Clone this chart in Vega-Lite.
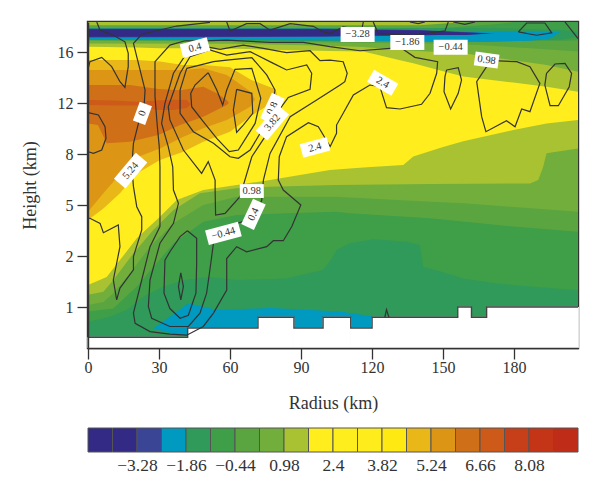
{"$schema":"https://vega.github.io/schema/vega-lite/v6.json","background":"white","padding":{"left":19,"top":20,"right":10,"bottom":10},"spacing":13,
"config":{"view":{"stroke":null},"axis":{"labelFont":"Liberation Serif","titleFont":"Liberation Serif","labelColor":"#333","titleColor":"#333","titleFontWeight":"normal","grid":false}},
"datasets":{
"bands":[
{"band":"-1.86","piece":"a","radius":0,"top":18.38,"bottom":0.2},{"band":"-1.86","piece":"a","radius":207,"top":18.38,"bottom":0.2},
{"band":"-1.15","piece":"b","radius":0,"top":18.38,"bottom":0.71},{"band":"-1.15","piece":"b","radius":9.3,"top":18.38,"bottom":0.81},{"band":"-1.15","piece":"b","radius":16.3,"top":18.38,"bottom":0.94},{"band":"-1.15","piece":"b","radius":23.4,"top":18.38,"bottom":1.2},{"band":"-1.15","piece":"b","radius":31.8,"top":18.38,"bottom":1.4},{"band":"-1.15","piece":"b","radius":40.3,"top":18.38,"bottom":1.53},{"band":"-1.15","piece":"b","radius":51.5,"top":18.38,"bottom":1.59},{"band":"-1.15","piece":"b","radius":62.8,"top":18.38,"bottom":1.53},{"band":"-1.15","piece":"b","radius":83.9,"top":18.38,"bottom":1.56},{"band":"-1.15","piece":"b","radius":99.4,"top":18.38,"bottom":1.73},{"band":"-1.15","piece":"b","radius":103,"top":18.38,"bottom":1.95},{"band":"-1.15","piece":"b","radius":105,"top":18.38,"bottom":2.35},{"band":"-1.15","piece":"b","radius":110.6,"top":18.38,"bottom":2.75},{"band":"-1.15","piece":"b","radius":120.5,"top":18.38,"bottom":2.98},{"band":"-1.15","piece":"b","radius":134.6,"top":18.38,"bottom":2.84},{"band":"-1.15","piece":"b","radius":140.2,"top":18.38,"bottom":2.65},{"band":"-1.15","piece":"b","radius":141.6,"top":18.38,"bottom":1.79},{"band":"-1.15","piece":"b","radius":151.5,"top":18.38,"bottom":1.66},{"band":"-1.15","piece":"b","radius":158.5,"top":18.38,"bottom":1.56},{"band":"-1.15","piece":"b","radius":172.6,"top":18.38,"bottom":1.46},{"band":"-1.15","piece":"b","radius":186.7,"top":18.38,"bottom":1.4},{"band":"-1.15","piece":"b","radius":207,"top":18.38,"bottom":1.33},
{"band":"-0.44","piece":"c","radius":0,"top":18.38,"bottom":0.91},{"band":"-0.44","piece":"c","radius":10.7,"top":18.38,"bottom":0.97},{"band":"-0.44","piece":"c","radius":20.6,"top":18.38,"bottom":1.4},{"band":"-0.44","piece":"c","radius":29,"top":18.38,"bottom":1.86},{"band":"-0.44","piece":"c","radius":36.1,"top":18.38,"bottom":2.75},{"band":"-0.44","piece":"c","radius":48.7,"top":18.38,"bottom":4.02},{"band":"-0.44","piece":"c","radius":62.8,"top":18.38,"bottom":4.41},{"band":"-0.44","piece":"c","radius":83.9,"top":18.38,"bottom":4.51},{"band":"-0.44","piece":"c","radius":105,"top":18.38,"bottom":4.61},{"band":"-0.44","piece":"c","radius":110.6,"top":18.38,"bottom":4.51},{"band":"-0.44","piece":"c","radius":144.5,"top":18.38,"bottom":4.22},{"band":"-0.44","piece":"c","radius":179.7,"top":18.38,"bottom":3.73},{"band":"-0.44","piece":"c","radius":207,"top":18.38,"bottom":3.43},
{"band":"0.27","piece":"d","radius":0,"top":18.38,"bottom":1.04},{"band":"0.27","piece":"d","radius":6.5,"top":18.38,"bottom":1.1},{"band":"0.27","piece":"d","radius":10.7,"top":18.38,"bottom":1.27},{"band":"0.27","piece":"d","radius":17.7,"top":18.38,"bottom":1.66},{"band":"0.27","piece":"d","radius":26.2,"top":18.38,"bottom":2.55},{"band":"0.27","piece":"d","radius":36.1,"top":18.38,"bottom":3.92},{"band":"0.27","piece":"d","radius":48.7,"top":18.38,"bottom":5},{"band":"0.27","piece":"d","radius":62.8,"top":18.38,"bottom":5.49},{"band":"0.27","piece":"d","radius":105,"top":18.38,"bottom":5.49},{"band":"0.27","piece":"d","radius":130.4,"top":18.38,"bottom":5.29},{"band":"0.27","piece":"d","radius":158.5,"top":18.38,"bottom":5.1},{"band":"0.27","piece":"d","radius":207,"top":18.38,"bottom":4.61},
{"band":"0.98","piece":"e","radius":0,"top":18.38,"bottom":1.24},{"band":"0.98","piece":"e","radius":6.5,"top":18.38,"bottom":1.3},{"band":"0.98","piece":"e","radius":10.7,"top":18.38,"bottom":1.53},{"band":"0.98","piece":"e","radius":19.2,"top":18.38,"bottom":2.16},{"band":"0.98","piece":"e","radius":27.6,"top":18.38,"bottom":3.53},{"band":"0.98","piece":"e","radius":36.1,"top":18.38,"bottom":4.71},{"band":"0.98","piece":"e","radius":47.3,"top":18.38,"bottom":5.69},{"band":"0.98","piece":"e","radius":62.8,"top":18.38,"bottom":5.98},{"band":"0.98","piece":"e","radius":76.9,"top":18.38,"bottom":6.08},{"band":"0.98","piece":"e","radius":105,"top":18.38,"bottom":6.18},{"band":"0.98","piece":"e","radius":144.5,"top":18.38,"bottom":6.24},{"band":"0.98","piece":"e","radius":186.7,"top":18.38,"bottom":6.27},{"band":"0.98","piece":"e","radius":190.2,"top":18.38,"bottom":6.47},{"band":"0.98","piece":"e","radius":192.3,"top":18.38,"bottom":7.25},{"band":"0.98","piece":"e","radius":193.7,"top":18.38,"bottom":8.05},{"band":"0.98","piece":"e","radius":207,"top":18.38,"bottom":8.44},
{"band":"1.69","piece":"f","radius":0,"top":16.42,"bottom":1.43},{"band":"1.69","piece":"f","radius":7.9,"top":16.4,"bottom":1.59},{"band":"1.69","piece":"f","radius":13.5,"top":16.38,"bottom":1.92},{"band":"1.69","piece":"f","radius":20.6,"top":16.36,"bottom":3.04},{"band":"1.69","piece":"f","radius":30.4,"top":16.3,"bottom":4.31},{"band":"1.69","piece":"f","radius":37.5,"top":16.29,"bottom":5.29},{"band":"1.69","piece":"f","radius":48.7,"top":16.27,"bottom":5.88},{"band":"1.69","piece":"f","radius":62.8,"top":16.25,"bottom":6.18},{"band":"1.69","piece":"f","radius":76.9,"top":16.18,"bottom":6.47},{"band":"1.69","piece":"f","radius":102.2,"top":16.08,"bottom":7.06},{"band":"1.69","piece":"f","radius":116.3,"top":16.03,"bottom":7.2},{"band":"1.69","piece":"f","radius":133.2,"top":15.3,"bottom":7.35},{"band":"1.69","piece":"f","radius":137.4,"top":15.11,"bottom":7.85},{"band":"1.69","piece":"f","radius":150,"top":14.5,"bottom":8.55},{"band":"1.69","piece":"f","radius":158.5,"top":14.07,"bottom":9},{"band":"1.69","piece":"f","radius":179.7,"top":13.6,"bottom":9.88},{"band":"1.69","piece":"f","radius":193.7,"top":13.28,"bottom":10.4},{"band":"1.69","piece":"f","radius":207,"top":12.89,"bottom":10.67},
{"band":"4.53","piece":"g","radius":0,"top":15.37,"bottom":4.12},{"band":"4.53","piece":"g","radius":6.5,"top":15.37,"bottom":4.8},{"band":"4.53","piece":"g","radius":13.5,"top":15.37,"bottom":5.69},{"band":"4.53","piece":"g","radius":20.6,"top":15.37,"bottom":6.86},{"band":"4.53","piece":"g","radius":30.4,"top":15.25,"bottom":7.65},{"band":"4.53","piece":"g","radius":40,"top":14.98,"bottom":8.15},{"band":"4.53","piece":"g","radius":48.7,"top":14.98,"bottom":8.97},{"band":"4.53","piece":"g","radius":60,"top":14.8,"bottom":9.75},{"band":"4.53","piece":"g","radius":69,"top":13.8,"bottom":11},{"band":"4.53","piece":"g","radius":79,"top":13.1,"bottom":12.15},{"band":"4.53","piece":"g","radius":80,"top":12.6,"bottom":12.6},
{"band":"5.24","piece":"h","radius":0,"top":14.59,"bottom":4.61},{"band":"5.24","piece":"h","radius":6.5,"top":14.59,"bottom":5.69},{"band":"5.24","piece":"h","radius":15,"top":14.59,"bottom":7.06},{"band":"5.24","piece":"h","radius":21.3,"top":14.59,"bottom":7.84},{"band":"5.24","piece":"h","radius":30.4,"top":14.59,"bottom":8.44},{"band":"5.24","piece":"h","radius":40.3,"top":14.59,"bottom":9.36},{"band":"5.24","piece":"h","radius":48.7,"top":14.72,"bottom":10.01},{"band":"5.24","piece":"h","radius":58.6,"top":14.2,"bottom":10.67},{"band":"5.24","piece":"h","radius":62.8,"top":13.67,"bottom":11.1},{"band":"5.24","piece":"h","radius":68.5,"top":12.9,"bottom":11.7},{"band":"5.24","piece":"h","radius":70.6,"top":12.3,"bottom":12.3},
{"band":"5.95","piece":"i","radius":0,"top":13.41,"bottom":10.4},{"band":"5.95","piece":"i","radius":4.2,"top":13.41,"bottom":10.27},{"band":"5.95","piece":"i","radius":7.9,"top":13.41,"bottom":8.84},{"band":"5.95","piece":"i","radius":17.7,"top":13.41,"bottom":8.97},{"band":"5.95","piece":"i","radius":29.7,"top":13.1,"bottom":9.49},{"band":"5.95","piece":"i","radius":38.9,"top":13,"bottom":10.27},{"band":"5.95","piece":"i","radius":48.7,"top":13.28,"bottom":10.93},{"band":"5.95","piece":"i","radius":54.4,"top":12.76,"bottom":11.45},{"band":"5.95","piece":"i","radius":58.6,"top":12.24,"bottom":11.84},{"band":"5.95","piece":"i","radius":59.5,"top":12,"bottom":12},
{"band":"6.66","piece":"j","radius":0,"top":12.24,"bottom":11.84},{"band":"6.66","piece":"j","radius":10.7,"top":12.2,"bottom":11.8},{"band":"6.66","piece":"j","radius":20.6,"top":12.1,"bottom":11.8},{"band":"6.66","piece":"j","radius":29,"top":12.2,"bottom":11.45},{"band":"6.66","piece":"j","radius":36,"top":12.25,"bottom":11.45},{"band":"6.66","piece":"j","radius":41.7,"top":12.24,"bottom":11.6},{"band":"6.66","piece":"j","radius":43.5,"top":11.9,"bottom":11.9},
{"band":"0.27","piece":"k","radius":0,"top":18.38,"bottom":16.68},{"band":"0.27","piece":"k","radius":60,"top":18.38,"bottom":16.65},{"band":"0.27","piece":"k","radius":102,"top":18.38,"bottom":16.5},{"band":"0.27","piece":"k","radius":116,"top":18.38,"bottom":16.4},{"band":"0.27","piece":"k","radius":137,"top":18.38,"bottom":16.1},{"band":"0.27","piece":"k","radius":158.5,"top":18.38,"bottom":15.9},{"band":"0.27","piece":"k","radius":193.7,"top":18.38,"bottom":14.98},{"band":"0.27","piece":"k","radius":207,"top":18.38,"bottom":14.46},
{"band":"-0.44","piece":"l","radius":0,"top":18.38,"bottom":16.9},{"band":"-0.44","piece":"l","radius":60,"top":18.38,"bottom":16.85},{"band":"-0.44","piece":"l","radius":102,"top":18.38,"bottom":16.75},{"band":"-0.44","piece":"l","radius":144.5,"top":18.38,"bottom":16.68},{"band":"-0.44","piece":"l","radius":165,"top":18.38,"bottom":16.55},{"band":"-0.44","piece":"l","radius":186.7,"top":18.38,"bottom":16.29},{"band":"-0.44","piece":"l","radius":207,"top":18.38,"bottom":16.03},
{"band":"-1.15","piece":"m","radius":0,"top":18.38,"bottom":17},{"band":"-1.15","piece":"m","radius":100,"top":18.38,"bottom":17},{"band":"-1.15","piece":"m","radius":200,"top":18.38,"bottom":16.9},{"band":"-1.15","piece":"m","radius":207,"top":18.38,"bottom":16.94},
{"band":"-0.44","piece":"n","radius":0,"top":18.38,"bottom":17.9},{"band":"-0.44","piece":"n","radius":150,"top":18.38,"bottom":17.9},{"band":"-0.44","piece":"n","radius":172,"top":18.38,"bottom":18.2},{"band":"-0.44","piece":"n","radius":180,"top":18.38,"bottom":18.38},
{"band":"0.98","piece":"o","radius":0,"top":18.38,"bottom":18.12},{"band":"0.98","piece":"o","radius":140,"top":18.38,"bottom":18.12},{"band":"0.98","piece":"o","radius":160,"top":18.38,"bottom":18.38},
{"band":"-1.86","piece":"p","radius":0,"top":17.9,"bottom":16.95},{"band":"-1.86","piece":"p","radius":170,"top":17.9,"bottom":16.8},{"band":"-1.86","piece":"p","radius":200,"top":17.75,"bottom":17.0},{"band":"-1.86","piece":"p","radius":207,"top":17.6,"bottom":17.2},
{"band":"-2.57","piece":"q","radius":0,"top":17.85,"bottom":16.98},{"band":"-2.57","piece":"q","radius":100,"top":17.85,"bottom":16.93},{"band":"-2.57","piece":"q","radius":160,"top":17.6,"bottom":16.81},{"band":"-2.57","piece":"q","radius":186.7,"top":17.67,"bottom":16.89},{"band":"-2.57","piece":"q","radius":195.2,"top":17.59,"bottom":17.07},{"band":"-2.57","piece":"q","radius":199.4,"top":17.59,"bottom":17.59},
{"band":"-3.28","piece":"r","radius":0,"top":17.85,"bottom":17.15},{"band":"-3.28","piece":"r","radius":100,"top":17.85,"bottom":17.2},{"band":"-3.28","piece":"r","radius":140,"top":17.75,"bottom":17.3},{"band":"-3.28","piece":"r","radius":172,"top":17.46,"bottom":17.46},
{"band":"-3.99","piece":"s","radius":0,"top":17.8,"bottom":17.2},{"band":"-3.99","piece":"s","radius":100,"top":17.8,"bottom":17.25},{"band":"-3.99","piece":"s","radius":120,"top":17.75,"bottom":17.3},{"band":"-3.99","piece":"s","radius":140,"top":17.7,"bottom":17.35},{"band":"-3.99","piece":"s","radius":160,"top":17.55,"bottom":17.35},{"band":"-3.99","piece":"s","radius":170,"top":17.46,"bottom":17.46},
{"band":"-2.57","piece":"t","radius":27.6,"top":0.58,"bottom":0.58},{"band":"-2.57","piece":"t","radius":34.6,"top":0.81,"bottom":0.5},{"band":"-2.57","piece":"t","radius":42,"top":1.06,"bottom":0.43},{"band":"-2.57","piece":"t","radius":43.1,"top":1.07,"bottom":0.3},{"band":"-2.57","piece":"t","radius":54.4,"top":0.94,"bottom":0.3},{"band":"-2.57","piece":"t","radius":76.9,"top":0.98,"bottom":0.3},{"band":"-2.57","piece":"t","radius":106.5,"top":0.91,"bottom":0.3},{"band":"-2.57","piece":"t","radius":119.8,"top":0.82,"bottom":0.3},{"band":"-2.57","piece":"t","radius":120,"top":0.3,"bottom":0.3}
],
"contours":[
{"id":1,"radius":3.7,"height":18.38},{"id":1,"radius":5.1,"height":17.73},{"id":1,"radius":10.7,"height":17.33},{"id":1,"radius":15.6,"height":16.81},{"id":1,"radius":17,"height":15.9},{"id":1,"radius":17,"height":14.85},{"id":1,"radius":15.6,"height":13.23},{"id":1,"radius":13.5,"height":13.67},{"id":1,"radius":10,"height":14.85},{"id":1,"radius":5.8,"height":15.58},{"id":1,"radius":0.8,"height":15.24},{"id":1,"radius":0.1,"height":14.72},
{"id":2,"radius":0.1,"height":11.24},{"id":2,"radius":4.4,"height":11.06},{"id":2,"radius":7.2,"height":10.14},{"id":2,"radius":7.6,"height":9.23},{"id":2,"radius":5.8,"height":8.31},{"id":2,"radius":2.3,"height":8.05},{"id":2,"radius":0.1,"height":8.18},
{"id":3,"radius":51.5,"height":18.35},{"id":3,"radius":37.5,"height":18.06},{"id":3,"radius":22.7,"height":17.41},{"id":3,"radius":19.2,"height":16.68},{"id":3,"radius":21.3,"height":15.11},{"id":3,"radius":24.1,"height":13.02},{"id":3,"radius":23.7,"height":11.71},{"id":3,"radius":21.3,"height":10.4},{"id":3,"radius":19.2,"height":8.84},{"id":3,"radius":18.5,"height":7.25},{"id":3,"radius":19.2,"height":6.08},{"id":3,"radius":20.6,"height":4.9},{"id":3,"radius":22.7,"height":4.31},{"id":3,"radius":22.7,"height":3.53},{"id":3,"radius":19.2,"height":1.99},{"id":3,"radius":19.2,"height":1.73},{"id":3,"radius":13.5,"height":1.37},{"id":3,"radius":12.1,"height":1.14},{"id":3,"radius":10.7,"height":1.53},{"id":3,"radius":13.5,"height":2.55},{"id":3,"radius":12.8,"height":3.82},{"id":3,"radius":6.5,"height":3.37},{"id":3,"radius":5.1,"height":3.92},{"id":3,"radius":0.8,"height":4.22},{"id":3,"radius":0.1,"height":4.22},
{"id":4,"radius":58.6,"height":18.38},{"id":4,"radius":60,"height":17.67},{"id":4,"radius":67,"height":18.25},{"id":4,"radius":72.7,"height":18.25},{"id":4,"radius":76.9,"height":17.73},{"id":4,"radius":85.4,"height":18.25},{"id":4,"radius":95.2,"height":18.04},{"id":4,"radius":99.4,"height":17.59},{"id":4,"radius":102.3,"height":17.46},{"id":4,"radius":107.8,"height":17.99},{"id":4,"radius":115.6,"height":17.73},{"id":4,"radius":116.3,"height":18.38},
{"id":5,"radius":120.5,"height":18.38},{"id":5,"radius":122.6,"height":17.46},{"id":5,"radius":137.4,"height":17.33},{"id":5,"radius":150.8,"height":17.67},{"id":5,"radius":152.2,"height":18.38},
{"id":6,"radius":136,"height":18.38},{"id":6,"radius":139.5,"height":18.25},{"id":6,"radius":142.3,"height":18.38},
{"id":7,"radius":154.3,"height":18.38},{"id":7,"radius":159.2,"height":18.2},{"id":7,"radius":163.5,"height":18.38},
{"id":8,"radius":181.8,"height":17.59},{"id":8,"radius":185.3,"height":18.3},{"id":8,"radius":193,"height":18.3},{"id":8,"radius":195.9,"height":17.52},{"id":8,"radius":189.5,"height":17.33},{"id":8,"radius":181.8,"height":17.59},
{"id":9,"radius":201.5,"height":18.38},{"id":9,"radius":207,"height":17.07},
{"id":10,"radius":41,"height":16.89},{"id":10,"radius":34.6,"height":16.55},{"id":10,"radius":28.3,"height":15.24},{"id":10,"radius":28.3,"height":12.5},{"id":10,"radius":29.3,"height":10.14},{"id":10,"radius":30.1,"height":8.58},{"id":10,"radius":30.4,"height":7.25},{"id":10,"radius":30.4,"height":5.29},{"id":10,"radius":30.4,"height":3.73},{"id":10,"radius":26.2,"height":2.55},{"id":10,"radius":21.3,"height":1.27},{"id":10,"radius":19.2,"height":0.88},{"id":10,"radius":19.9,"height":0.68},{"id":10,"radius":26.2,"height":0.52},{"id":10,"radius":34.6,"height":0.47},{"id":10,"radius":41.7,"height":0.45},{"id":10,"radius":48.7,"height":0.62},{"id":10,"radius":53,"height":0.88},{"id":10,"radius":58.6,"height":1.33},{"id":10,"radius":58.6,"height":1.95},{"id":10,"radius":62.8,"height":2.55},{"id":10,"radius":67,"height":2.25},{"id":10,"radius":75.5,"height":2.55},{"id":10,"radius":78.3,"height":2.9},{"id":10,"radius":82.5,"height":2.9},{"id":10,"radius":86.1,"height":3.73},{"id":10,"radius":89.9,"height":5},{"id":10,"radius":82.5,"height":5.88},{"id":10,"radius":80.4,"height":6.47},{"id":10,"radius":80.8,"height":7.84},{"id":10,"radius":83.9,"height":9.36},{"id":10,"radius":93.1,"height":10.46},{"id":10,"radius":97.3,"height":10.14},{"id":10,"radius":102.3,"height":8.58},{"id":10,"radius":105,"height":9.62},{"id":10,"radius":105,"height":10.27},{"id":10,"radius":107.8,"height":11.19},{"id":10,"radius":112.1,"height":12.63},{"id":10,"radius":119.1,"height":13.41},{"id":10,"radius":123.3,"height":13.28},{"id":10,"radius":126.1,"height":11.63},{"id":10,"radius":131.8,"height":11.53},{"id":10,"radius":140.9,"height":11.9},{"id":10,"radius":144.5,"height":12.76},{"id":10,"radius":147.3,"height":14.33},{"id":10,"radius":147.7,"height":15.24},{"id":10,"radius":138.1,"height":15.58},{"id":10,"radius":132.5,"height":16.29},{"id":10,"radius":127.6,"height":16.29},{"id":10,"radius":114.9,"height":16.1},{"id":10,"radius":102.2,"height":16.42},{"id":10,"radius":91,"height":16.76},{"id":10,"radius":76.9,"height":16.76},{"id":10,"radius":58.6,"height":16.94},{"id":10,"radius":48.7,"height":16.89},{"id":10,"radius":41,"height":16.89},
{"id":11,"radius":41.7,"height":15.9},{"id":11,"radius":36.1,"height":14.33},{"id":11,"radius":32.5,"height":11.97},{"id":11,"radius":31.1,"height":10.4},{"id":11,"radius":33.9,"height":8.58},{"id":11,"radius":35.8,"height":7.25},{"id":11,"radius":36.1,"height":5.88},{"id":11,"radius":38.2,"height":5.1},{"id":11,"radius":36.1,"height":3.92},{"id":11,"radius":30.4,"height":2.75},{"id":11,"radius":26.2,"height":1.53},{"id":11,"radius":25.5,"height":1.01},{"id":11,"radius":26.9,"height":0.78},{"id":11,"radius":34.6,"height":0.62},{"id":11,"radius":42.4,"height":0.62},{"id":11,"radius":47.3,"height":0.88},{"id":11,"radius":50.1,"height":1.27},{"id":11,"radius":51.5,"height":1.73},{"id":11,"radius":53,"height":2.75},{"id":11,"radius":61.4,"height":3.82},{"id":11,"radius":70.6,"height":4.31},{"id":11,"radius":73.4,"height":5.29},{"id":11,"radius":74.1,"height":6.47},{"id":11,"radius":76.9,"height":8.05},{"id":11,"radius":85.4,"height":10.93},{"id":11,"radius":96.6,"height":12.24},{"id":11,"radius":106.5,"height":13.41},{"id":11,"radius":108.5,"height":13.67},{"id":11,"radius":109.5,"height":14.33},{"id":11,"radius":107.8,"height":15.24},{"id":11,"radius":102.2,"height":15.37},{"id":11,"radius":98,"height":15.32},{"id":11,"radius":93.8,"height":16.1},{"id":11,"radius":83.9,"height":15.95},{"id":11,"radius":74.1,"height":16.29},{"id":11,"radius":65.6,"height":16.55},{"id":11,"radius":55.8,"height":16.21},{"id":11,"radius":48.7,"height":16.47},{"id":11,"radius":41.7,"height":15.9},
{"id":12,"radius":43.1,"height":15.63},{"id":12,"radius":51.5,"height":16.16},{"id":12,"radius":58.6,"height":15.76},{"id":12,"radius":68.5,"height":16.03},{"id":12,"radius":78.3,"height":15.11},{"id":12,"radius":83.9,"height":14.59},{"id":12,"radius":92.4,"height":14.98},{"id":12,"radius":94.5,"height":14.33},{"id":12,"radius":93.8,"height":13.07},{"id":12,"radius":84.6,"height":12.44},{"id":12,"radius":79.7,"height":11.19},{"id":12,"radius":74.8,"height":9.36},{"id":12,"radius":69.2,"height":7.84},{"id":12,"radius":64.2,"height":5.49},{"id":12,"radius":57.9,"height":4.51},{"id":12,"radius":53.9,"height":4.41},{"id":12,"radius":53.7,"height":5.88},{"id":12,"radius":53.7,"height":6.47},{"id":12,"radius":50.8,"height":7.55},{"id":12,"radius":48,"height":6.86},{"id":12,"radius":40.3,"height":8.31},{"id":12,"radius":34.6,"height":10.67},{"id":12,"radius":33.9,"height":11.71},{"id":12,"radius":38.9,"height":14.33},{"id":12,"radius":43.1,"height":15.63},
{"id":13,"radius":41.7,"height":14.72},{"id":13,"radius":53,"height":15.24},{"id":13,"radius":58.6,"height":15.37},{"id":13,"radius":69.2,"height":15.56},{"id":13,"radius":75.5,"height":14.2},{"id":13,"radius":79,"height":13.02},{"id":13,"radius":76.9,"height":10.93},{"id":13,"radius":68.5,"height":8.31},{"id":13,"radius":63.5,"height":7.75},{"id":13,"radius":60,"height":7.84},{"id":13,"radius":53,"height":8.84},{"id":13,"radius":44.5,"height":9.75},{"id":13,"radius":38.9,"height":11.19},{"id":13,"radius":38.9,"height":13.02},{"id":13,"radius":41.7,"height":14.72},
{"id":14,"radius":50.8,"height":14.38},{"id":14,"radius":45.2,"height":13.41},{"id":14,"radius":43.4,"height":12.76},{"id":14,"radius":43.8,"height":11.71},{"id":14,"radius":48.7,"height":10.54},{"id":14,"radius":54.4,"height":9.23},{"id":14,"radius":59.7,"height":8.18},{"id":14,"radius":63.5,"height":8.31},{"id":14,"radius":70.6,"height":10.4},{"id":14,"radius":73,"height":12.37},{"id":14,"radius":69.2,"height":14.72},{"id":14,"radius":62.1,"height":14.64},{"id":14,"radius":58.6,"height":13.02},{"id":14,"radius":56.9,"height":11.84},{"id":14,"radius":54.4,"height":13.02},{"id":14,"radius":50.8,"height":14.38},
{"id":15,"radius":62.8,"height":13.07},{"id":15,"radius":69.2,"height":12.76},{"id":15,"radius":69.6,"height":11.19},{"id":15,"radius":65.6,"height":10.27},{"id":15,"radius":62.8,"height":9.7},{"id":15,"radius":61.4,"height":11.45},{"id":15,"radius":62.8,"height":13.07},
{"id":16,"radius":42,"height":3.49},{"id":16,"radius":45.9,"height":3.04},{"id":16,"radius":45.9,"height":1.86},{"id":16,"radius":45.6,"height":1.27},{"id":16,"radius":42.4,"height":0.84},{"id":16,"radius":38.9,"height":0.78},{"id":16,"radius":34.6,"height":0.97},{"id":16,"radius":32.1,"height":1.27},{"id":16,"radius":32.5,"height":1.92},{"id":16,"radius":34.6,"height":2.25},{"id":16,"radius":38.9,"height":3.14},{"id":16,"radius":42,"height":3.49},
{"id":17,"radius":39.2,"height":1.67},{"id":17,"radius":40.3,"height":1.4},{"id":17,"radius":39.2,"height":1.14},{"id":17,"radius":38.2,"height":1.4},{"id":17,"radius":39.2,"height":1.67},
{"id":18,"radius":151.5,"height":14.59},{"id":18,"radius":156.4,"height":14.77},{"id":18,"radius":157.8,"height":13.8},{"id":18,"radius":156.4,"height":12.76},{"id":18,"radius":153.2,"height":11.53},{"id":18,"radius":150.4,"height":12.89},{"id":18,"radius":150.8,"height":14.07},{"id":18,"radius":151.5,"height":14.59},
{"id":19,"radius":168.4,"height":14.85},{"id":19,"radius":171.2,"height":15.32},{"id":19,"radius":181.1,"height":15.24},{"id":19,"radius":186.7,"height":14.85},{"id":19,"radius":190.9,"height":13.54},{"id":19,"radius":186.7,"height":11.32},{"id":19,"radius":183.2,"height":11.53},{"id":19,"radius":180.4,"height":10.14},{"id":19,"radius":176.8,"height":10.61},{"id":19,"radius":168.1,"height":9.75},{"id":19,"radius":166.3,"height":10.93},{"id":19,"radius":164.2,"height":13.67},{"id":19,"radius":168.4,"height":14.85},
{"id":20,"radius":193.7,"height":14.33},{"id":20,"radius":197.3,"height":15.06},{"id":20,"radius":201.5,"height":15.11},{"id":20,"radius":204.3,"height":14.33},{"id":20,"radius":203.3,"height":13.28},{"id":20,"radius":198.7,"height":11.79},{"id":20,"radius":195.2,"height":11.79},{"id":20,"radius":193,"height":13.41},{"id":20,"radius":193.7,"height":14.33},
{"id":21,"radius":125.4,"height":0.8},{"id":21,"radius":126.1,"height":0.95},{"id":21,"radius":127.1,"height":0.8}
],
"terrain":[{"r1":0,"r2":42.1,"h":0.41},{"r1":42.1,"r2":71.8,"h":0.59},{"r1":71.8,"r2":87,"h":0.8},{"r1":87,"r2":99.3,"h":0.59},{"r1":99.3,"r2":111,"h":0.8},{"r1":111,"r2":120,"h":0.59},{"r1":120,"r2":156.2,"h":0.8},{"r1":156.2,"r2":162,"h":1},{"r1":162,"r2":168.4,"h":0.8},{"r1":168.4,"r2":207,"h":1},{"r1":207,"r2":207,"h":1}],
"labels":[
{"text":"−3.28","radius":113.9,"height":17.39,"tilt":"a"},{"text":"−1.86","radius":134.9,"height":16.76,"tilt":"a"},{"text":"−0.44","radius":153.2,"height":16.37,"tilt":"a"},
{"text":"0.98","radius":69.2,"height":5.82,"tilt":"g"},
{"text":"0.4","radius":45.2,"height":16.34,"tilt":"b"},{"text":"2.4","radius":95.9,"height":8.52,"tilt":"b"},
{"text":"−0.44","radius":57.2,"height":3.33,"tilt":"h"},
{"text":"0.98","radius":168.4,"height":15.37,"tilt":"c"},
{"text":"2.4","radius":124.5,"height":13.59,"tilt":"d"},
{"text":"0","radius":23,"height":11.19,"tilt":"i"},
{"text":"0.8","radius":77.9,"height":11.58,"tilt":"e"},{"text":"0.4","radius":69.9,"height":4.45,"tilt":"e"},
{"text":"5.24","radius":18,"height":7.02,"tilt":"f"},{"text":"3.82","radius":77.9,"height":10.46,"tilt":"f"}
],
"swatches":[{"band":"-4.7","low":-4.7,"high":-3.99},{"band":"-3.99","low":-3.99,"high":-3.28},{"band":"-3.28","low":-3.28,"high":-2.57},{"band":"-2.57","low":-2.57,"high":-1.86},{"band":"-1.86","low":-1.86,"high":-1.15},{"band":"-1.15","low":-1.15,"high":-0.44},{"band":"-0.44","low":-0.44,"high":0.27},{"band":"0.27","low":0.27,"high":0.98},{"band":"0.98","low":0.98,"high":1.69},{"band":"1.69","low":1.69,"high":2.4},{"band":"2.4","low":2.4,"high":3.11},{"band":"3.11","low":3.11,"high":3.82},{"band":"3.82","low":3.82,"high":4.53},{"band":"4.53","low":4.53,"high":5.24},{"band":"5.24","low":5.24,"high":5.95},{"band":"5.95","low":5.95,"high":6.66},{"band":"6.66","low":6.66,"high":7.37},{"band":"7.37","low":7.37,"high":8.08},{"band":"8.08","low":8.08,"high":8.79},{"band":"8.79","low":8.79,"high":9.5}]
},
"vconcat":[
{"width":490,"height":326,"view":{"stroke":"#333","strokeWidth":2.4},
"layer":[
{"data":{"name":"bands"},"mark":{"type":"area","clip":true},"encoding":{
"x":{"field":"radius","type":"quantitative","scale":{"domain":[0,207],"nice":false},"axis":{"values":[0,30,60,90,120,150,180],"title":"Radius (km)","labelFontSize":16,"titleFontSize":18,"tickSize":11,"tickWidth":1.3,"tickColor":"#333","domain":true,"domainColor":"#333","domainWidth":1.4,"zindex":1,"labelFlush":false,"labelPadding":0,"titlePadding":19}},
"y":{"field":"top","type":"quantitative","stack":null,"scale":{"domain":[0.2,1,2,5,8,12,16,18.38],"range":[326,285,234,183,132,81,30,0],"nice":false,"zero":false},"axis":{"values":[1,2,5,8,12,16],"title":"Height (km)","labelFontSize":16,"titleFontSize":18,"tickSize":11,"tickWidth":1.3,"tickColor":"#333","domain":true,"domainColor":"#333","domainWidth":1.4,"zindex":1,"labelFlush":false,"labelPadding":4,"titlePadding":18}},
"y2":{"field":"bottom"},
"detail":{"field":"piece"},
"color":{"field":"band","type":"nominal","legend":null,"scale":{"domain":["-4.7","-3.99","-3.28","-2.57","-1.86","-1.15","-0.44","0.27","0.98","1.69","2.4","3.11","3.82","4.53","5.24","5.95","6.66","7.37","8.08","8.79"],"range":["#332a85","#332a85","#3b4596","#0099c0","#2f9a5a","#3f9e48","#5aa540","#72ae3c","#a9c231","#ffed1e","#ffee1e","#ffec1c","#ffe913","#e9b718","#dd9515","#cf6f18","#cd5a19","#c63f18","#c43518","#bf2c18"]}}
}},
{"data":{"name":"terrain"},"mark":{"type":"rect","color":"white","stroke":"white","strokeWidth":1},"encoding":{"x":{"field":"r1","type":"quantitative"},"x2":{"field":"r2"},"y":{"field":"h","type":"quantitative"},"y2":{"datum":0.2}}},
{"data":{"name":"terrain"},"mark":{"type":"line","interpolate":"step-after","color":"#444","strokeWidth":1.4},"encoding":{"x":{"field":"r1","type":"quantitative"},"y":{"field":"h","type":"quantitative"}}},
{"data":{"name":"contours"},"transform":[{"window":[{"op":"row_number","as":"seq"}]}],"mark":{"type":"line","color":"#333","strokeWidth":1.2,"clip":true},"encoding":{"x":{"field":"radius","type":"quantitative"},"y":{"field":"height","type":"quantitative"},"detail":{"field":"id"},"order":{"field":"seq","type":"quantitative"}}},
{"data":{"name":"labels"},"transform":[{"filter":"datum.tilt=='a'"}],"layer":[
{"mark":{"type":"point","shape":"M-1,-0.44H1V0.44H-1Z","size":1156,"filled":true,"fill":"white","opacity":1,"strokeWidth":0},"encoding":{"x":{"field":"radius","type":"quantitative"},"y":{"field":"height","type":"quantitative"}}},
{"mark":{"type":"text","font":"Liberation Serif","fontSize":10.5,"color":"#333"},"encoding":{"x":{"field":"radius","type":"quantitative"},"y":{"field":"height","type":"quantitative"},"text":{"field":"text"}}}]},
{"data":{"name":"labels"},"transform":[{"filter":"datum.tilt=='g'"}],"layer":[
{"mark":{"type":"point","shape":"M-1,-0.58H1V0.58H-1Z","size":576,"filled":true,"fill":"white","opacity":1,"strokeWidth":0},"encoding":{"x":{"field":"radius","type":"quantitative"},"y":{"field":"height","type":"quantitative"}}},
{"mark":{"type":"text","font":"Liberation Serif","fontSize":10.5,"color":"#333"},"encoding":{"x":{"field":"radius","type":"quantitative"},"y":{"field":"height","type":"quantitative"},"text":{"field":"text"}}}]},
{"data":{"name":"labels"},"transform":[{"filter":"datum.tilt=='b'"}],"layer":[
{"mark":{"type":"point","shape":"M-1,-0.5H1V0.5H-1Z","size":784,"filled":true,"fill":"white","opacity":1,"strokeWidth":0,"angle":-15},"encoding":{"x":{"field":"radius","type":"quantitative"},"y":{"field":"height","type":"quantitative"}}},
{"mark":{"type":"text","font":"Liberation Serif","fontSize":10.5,"color":"#333","angle":-15},"encoding":{"x":{"field":"radius","type":"quantitative"},"y":{"field":"height","type":"quantitative"},"text":{"field":"text"}}}]},
{"data":{"name":"labels"},"transform":[{"filter":"datum.tilt=='h'"}],"layer":[
{"mark":{"type":"point","shape":"M-1,-0.44H1V0.44H-1Z","size":1156,"filled":true,"fill":"white","opacity":1,"strokeWidth":0,"angle":-15},"encoding":{"x":{"field":"radius","type":"quantitative"},"y":{"field":"height","type":"quantitative"}}},
{"mark":{"type":"text","font":"Liberation Serif","fontSize":10.5,"color":"#333","angle":-15},"encoding":{"x":{"field":"radius","type":"quantitative"},"y":{"field":"height","type":"quantitative"},"text":{"field":"text"}}}]},
{"data":{"name":"labels"},"transform":[{"filter":"datum.tilt=='c'"}],"layer":[
{"mark":{"type":"point","shape":"M-1,-0.58H1V0.58H-1Z","size":576,"filled":true,"fill":"white","opacity":1,"strokeWidth":0,"angle":8},"encoding":{"x":{"field":"radius","type":"quantitative"},"y":{"field":"height","type":"quantitative"}}},
{"mark":{"type":"text","font":"Liberation Serif","fontSize":10.5,"color":"#333","angle":8},"encoding":{"x":{"field":"radius","type":"quantitative"},"y":{"field":"height","type":"quantitative"},"text":{"field":"text"}}}]},
{"data":{"name":"labels"},"transform":[{"filter":"datum.tilt=='d'"}],"layer":[
{"mark":{"type":"point","shape":"M-1,-0.5H1V0.5H-1Z","size":784,"filled":true,"fill":"white","opacity":1,"strokeWidth":0,"angle":30},"encoding":{"x":{"field":"radius","type":"quantitative"},"y":{"field":"height","type":"quantitative"}}},
{"mark":{"type":"text","font":"Liberation Serif","fontSize":10.5,"color":"#333","angle":30},"encoding":{"x":{"field":"radius","type":"quantitative"},"y":{"field":"height","type":"quantitative"},"text":{"field":"text"}}}]},
{"data":{"name":"labels"},"transform":[{"filter":"datum.tilt=='i'"}],"layer":[
{"mark":{"type":"point","shape":"M-1,-0.65H1V0.65H-1Z","size":400,"filled":true,"fill":"white","opacity":1,"strokeWidth":0,"angle":-70},"encoding":{"x":{"field":"radius","type":"quantitative"},"y":{"field":"height","type":"quantitative"}}},
{"mark":{"type":"text","font":"Liberation Serif","fontSize":10.5,"color":"#333","angle":-70},"encoding":{"x":{"field":"radius","type":"quantitative"},"y":{"field":"height","type":"quantitative"},"text":{"field":"text"}}}]},
{"data":{"name":"labels"},"transform":[{"filter":"datum.tilt=='e'"}],"layer":[
{"mark":{"type":"point","shape":"M-1,-0.5H1V0.5H-1Z","size":784,"filled":true,"fill":"white","opacity":1,"strokeWidth":0,"angle":-65},"encoding":{"x":{"field":"radius","type":"quantitative"},"y":{"field":"height","type":"quantitative"}}},
{"mark":{"type":"text","font":"Liberation Serif","fontSize":10.5,"color":"#333","angle":-65},"encoding":{"x":{"field":"radius","type":"quantitative"},"y":{"field":"height","type":"quantitative"},"text":{"field":"text"}}}]},
{"data":{"name":"labels"},"transform":[{"filter":"datum.tilt=='f'"}],"layer":[
{"mark":{"type":"point","shape":"M-1,-0.44H1V0.44H-1Z","size":1156,"filled":true,"fill":"white","opacity":1,"strokeWidth":0,"angle":-50},"encoding":{"x":{"field":"radius","type":"quantitative"},"y":{"field":"height","type":"quantitative"}}},
{"mark":{"type":"text","font":"Liberation Serif","fontSize":10.5,"color":"#333","angle":-50},"encoding":{"x":{"field":"radius","type":"quantitative"},"y":{"field":"height","type":"quantitative"},"text":{"field":"text"}}}]}
]},
{"width":490,"height":24,"data":{"name":"swatches"},
"mark":{"type":"rect","stroke":"#555","strokeWidth":1},
"encoding":{
"x":{"field":"low","type":"quantitative","scale":{"domain":[-4.7,9.5],"nice":false,"zero":false},"axis":{"values":[-3.28,-1.86,-0.44,0.98,2.4,3.82,5.24,6.66,8.08],"labelExpr":"replace(toString(datum.value),'-','−')","title":null,"domain":false,"ticks":false,"labelFontSize":17.5,"labelPadding":4}},
"x2":{"field":"high"},
"color":{"field":"band","type":"nominal","legend":null}
}}
]}
